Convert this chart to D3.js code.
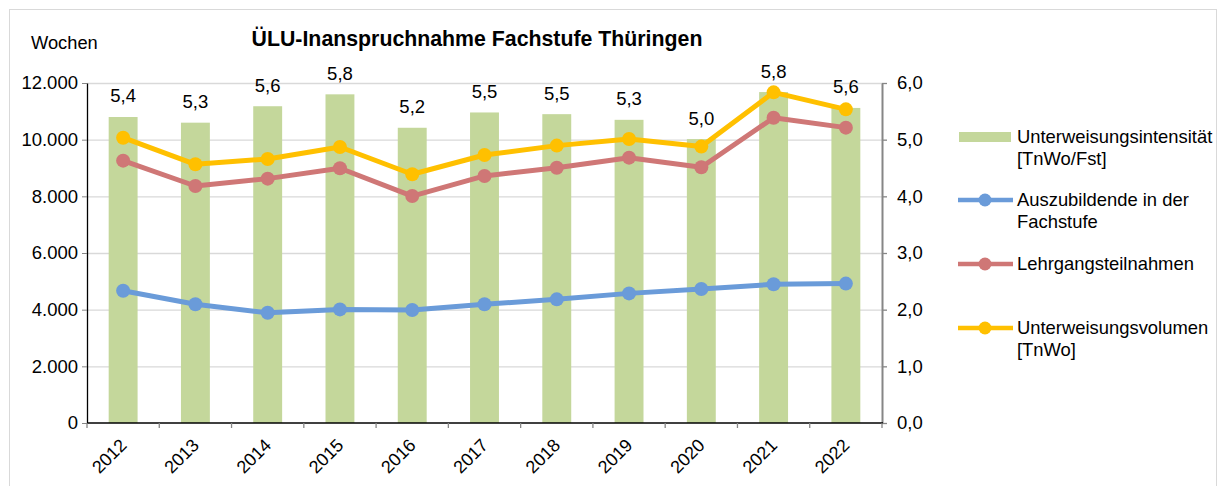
<!DOCTYPE html>
<html>
<head>
<meta charset="utf-8">
<script src="https://cdn.jsdelivr.net/npm/d3@7"></script>
<style>
  body { margin: 0; background: #fff; }
  svg { font-family: "Liberation Sans", Arial, sans-serif; }
</style>
</head>
<body>
<svg id="chart" width="1223" height="486"></svg>
<script>
// Data
var years = ['2012','2013','2014','2015','2016','2017','2018','2019','2020','2021','2022'];
// green bars, right axis (TnWo/Fst)
var intensity = [5.40, 5.30, 5.59, 5.80, 5.21, 5.48, 5.45, 5.35, 5.01, 5.84, 5.56];
var intensityLabels = ['5,4','5,3','5,6','5,8','5,2','5,5','5,5','5,3','5,0','5,8','5,6'];
// lines, left axis
var azubis = [4670, 4190, 3890, 4010, 3990, 4190, 4365, 4575, 4730, 4895, 4920];
var lehrgang = [9260, 8365, 8625, 8990, 8010, 8720, 9010, 9365, 9025, 10775, 10425];
var volumen = [10070, 9130, 9320, 9740, 8780, 9460, 9790, 10025, 9755, 11670, 11070];
var leftTicks = [0, 2000, 4000, 6000, 8000, 10000, 12000];
var rightTicks = [0, 1, 2, 3, 4, 5, 6];

var seriesLines = [
  {label: ['Auszubildende in der', 'Fachstufe'], values: azubis, color: '#6a9bd9', ly: 200},
  {label: ['Lehrgangsteilnahmen'], values: lehrgang, color: '#cf7776', ly: 264},
  {label: ['Unterweisungsvolumen', '[TnWo]'], values: volumen, color: '#ffc000', ly: 328}
];

var de = d3.formatLocale({decimal: ',', thousands: '.', grouping: [3], currency: ['', ' €']});

var plotLeft = 87, plotRight = 882, plotTop = 83, plotBottom = 423;

var svg = d3.select('#chart');

// chart frame
svg.append('rect')
  .attr('x', 9.5).attr('y', 9.5)
  .attr('width', 1207).attr('height', 600)
  .attr('fill', 'none').attr('stroke', '#d9d9d9');

var x = d3.scaleBand().domain(years).range([plotLeft, plotRight]);
var yL = d3.scaleLinear().domain([0, 12000]).range([plotBottom, plotTop]);
var yR = d3.scaleLinear().domain([0, 6]).range([plotBottom, plotTop]);

// gridlines
svg.append('g')
  .attr('transform', 'translate(' + plotLeft + ',0)')
  .call(d3.axisLeft(yL).tickValues(leftTicks.slice(1)).tickSize(-(plotRight - plotLeft)).tickFormat(''))
  .call(function(g){
    g.select('.domain').remove();
    g.selectAll('line').attr('stroke', '#d9d9d9').attr('stroke-width', 1.3);
  });

// bars
var bw = x.bandwidth() * 0.4;
svg.append('g').selectAll('rect')
  .data(intensity)
  .enter().append('rect')
    .attr('x', function(d, i){ return x(years[i]) + (x.bandwidth() - bw) / 2; })
    .attr('width', bw)
    .attr('y', function(d){ return yR(d); })
    .attr('height', function(d){ return plotBottom - yR(d); })
    .attr('fill', '#c4d79b');

// bar value labels
svg.append('g').selectAll('text')
  .data(intensity)
  .enter().append('text')
    .attr('x', function(d, i){ return x(years[i]) + x.bandwidth() / 2; })
    .attr('y', function(d){ return yR(d) - 21; })
    .attr('dy', '0.35em')
    .attr('text-anchor', 'middle')
    .attr('font-size', 18.5)
    .attr('fill', '#000')
    .text(function(d, i){ return intensityLabels[i]; });

// left axis
svg.append('g')
  .attr('transform', 'translate(' + plotLeft + ',0)')
  .call(d3.axisLeft(yL).tickValues(leftTicks).tickSize(5).tickSizeOuter(0).tickPadding(4).tickFormat(de.format(',')))
  .call(function(g){
    g.select('.domain').attr('stroke', '#000').attr('stroke-width', 1.3);
    g.selectAll('line').attr('stroke', '#868686');
    g.selectAll('text').attr('font-size', 18.5).attr('fill', '#000').attr('font-family', null);
  });

// right axis
svg.append('g')
  .attr('transform', 'translate(' + plotRight + ',0)')
  .call(d3.axisRight(yR).tickValues(rightTicks).tickSize(5).tickSizeOuter(0).tickPadding(10).tickFormat(de.format(',.1f')))
  .call(function(g){
    g.select('.domain').attr('stroke', '#868686').attr('stroke-width', 2);
    g.selectAll('line').attr('stroke', '#868686').attr('stroke-width', 1.3);
    g.selectAll('text').attr('font-size', 18.5).attr('fill', '#000').attr('font-family', null);
  });

// bottom axis: line, boundary ticks, rotated year labels
svg.append('line')
  .attr('x1', plotLeft).attr('x2', plotRight + 1)
  .attr('y1', plotBottom).attr('y2', plotBottom)
  .attr('stroke', '#000').attr('stroke-width', 1.3);

svg.append('g').selectAll('line')
  .data(years.concat(['end']))
  .enter().append('line')
    .attr('x1', function(d){ return d === 'end' ? plotRight : x(d); })
    .attr('x2', function(d){ return d === 'end' ? plotRight : x(d); })
    .attr('y1', plotBottom).attr('y2', plotBottom + 5)
    .attr('stroke', '#868686').attr('stroke-width', 1.3);

svg.append('g').selectAll('text')
  .data(years)
  .enter().append('text')
    .attr('transform', function(d){
      return 'translate(' + (x(d) + x.bandwidth() / 2 - 14) + ',456) rotate(-45)';
    })
    .attr('text-anchor', 'middle')
    .attr('dy', '0.35em')
    .attr('font-size', 18)
    .text(function(d){ return d; });

// lines with markers
var line = d3.line()
  .x(function(d, i){ return x(years[i]) + x.bandwidth() / 2; })
  .y(function(d){ return yL(d); });

seriesLines.forEach(function(s){
  var g = svg.append('g');
  g.append('path')
    .attr('d', line(s.values))
    .attr('fill', 'none')
    .attr('stroke', s.color)
    .attr('stroke-width', 5)
    .attr('stroke-linejoin', 'round');
  g.selectAll('circle')
    .data(s.values)
    .enter().append('circle')
      .attr('cx', function(d, i){ return x(years[i]) + x.bandwidth() / 2; })
      .attr('cy', function(d){ return yL(d); })
      .attr('r', 7)
      .attr('fill', s.color);
});

// titles
svg.append('text')
  .attr('x', 477).attr('y', 46)
  .attr('text-anchor', 'middle')
  .attr('font-size', 21.3)
  .attr('font-weight', 'bold')
  .text('ÜLU-Inanspruchnahme Fachstufe Thüringen');

svg.append('text')
  .attr('x', 31).attr('y', 49)
  .attr('font-size', 18.3)
  .text('Wochen');

// legend
var legend = svg.append('g');
legend.append('rect')
  .attr('x', 959).attr('y', 132)
  .attr('width', 52).attr('height', 10)
  .attr('fill', '#c4d79b');
var legendText = [{label: ['Unterweisungsintensität', '[TnWo/Fst]'], ly: 137}].concat(seriesLines);

seriesLines.forEach(function(s){
  legend.append('line')
    .attr('x1', 958).attr('x2', 1013)
    .attr('y1', s.ly).attr('y2', s.ly)
    .attr('stroke', s.color).attr('stroke-width', 4.5);
  legend.append('circle')
    .attr('cx', 985).attr('cy', s.ly).attr('r', 6.5)
    .attr('fill', s.color);
});

legendText.forEach(function(s){
  var t = legend.append('text')
    .attr('x', 1017).attr('y', s.ly)
    .attr('font-size', 18.4);
  s.label.forEach(function(l, i){
    t.append('tspan')
      .attr('x', 1017)
      .attr('dy', i === 0 ? '0.35em' : 22)
      .text(l);
  });
});
</script>
</body>
</html>
